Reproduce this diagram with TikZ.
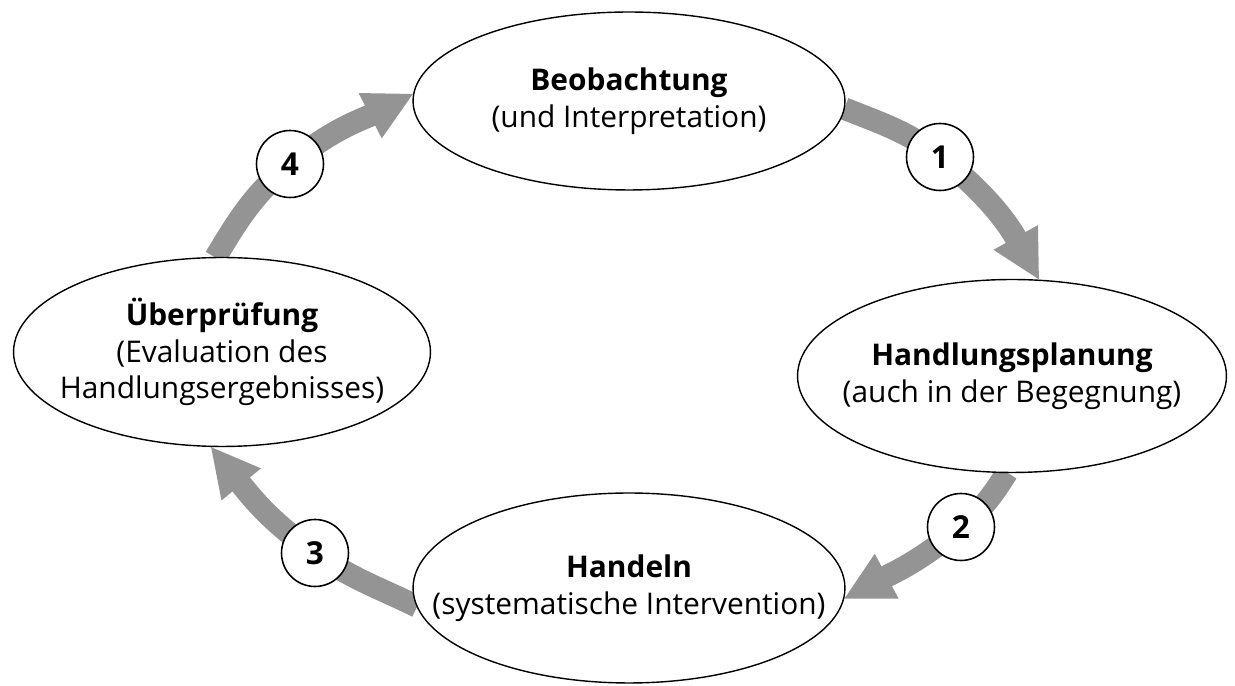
\documentclass[tikz,border=0pt]{standalone}
\usepackage{fontspec}
\setmainfont{Open Sans}
\usetikzlibrary{shapes.geometric,arrows.meta,backgrounds}
\definecolor{flowgray}{RGB}{148,148,148}
\begin{document}
\begin{tikzpicture}
    [
        x=0.02cm, y=0.02cm,
        stage/.style = {draw, shape=ellipse, fill=white, line width=0.8pt, inner sep=0pt, outer sep=0pt},
        stagetext/.style = {align=center, font=\fontsize{17}{21}\selectfont},
        flow/.style = {draw=flowgray, line width=0.45cm, -{Triangle[length=0.98cm, width=0.94cm]}},
        numcircle/.style = {draw=black, shape=circle, fill=white, line width=0.9pt, minimum size=1.34cm, inner sep=0pt, font=\fontsize{18}{21}\selectfont\bfseries},
    ]

    \useasboundingbox (0,0) rectangle (1235,686);

    \node[stage, minimum width=8.64cm, minimum height=3.56cm] (beob) at (629,585) {};
    \node[stage, minimum width=8.58cm, minimum height=3.86cm] (plan) at (1012,310) {};
    \node[stage, minimum width=8.64cm, minimum height=3.8cm] (handeln) at (629,98) {};
    \node[stage, minimum width=8.34cm, minimum height=3.78cm] (ueber) at (222,334) {};

    \node[stagetext] (beobtext) at (beob) {\textbf{Beobachtung}\\(und Interpretation)};
    \node[stagetext] (plantext) at (plan) {\textbf{Handlungsplanung}\\(auch in der Begegnung)};
    \node[stagetext] (handelntext) at (handeln) {\textbf{Handeln}\\(systematische Intervention)};
    \node[stagetext] (uebertext) at (ueber) {\textbf{Überprüfung}\\(Evaluation des\\Handlungsergebnisses)};

    \coordinate (p1) at (940,529);
    \coordinate (p2) at (961,159);
    \coordinate (p3) at (315,133);
    \coordinate (p4) at (290,522);

    \begin{scope}[on background layer]
        \draw [flow] (beob.-2) to[out=-22, in=142] (p1) to[out=-38, in=119] (plan.74);
        \draw [flow] (plan.267) to[out=-122, in=40] (p2) to[out=-140, in=28] (handeln.-3);
        \draw [flow] (handeln.185) to[out=154, in=-35] (p3) to[out=145, in=-51] (ueber.263);
        \draw [flow] (ueber.94) to[out=59, in=220] (p4) to[out=40, in=207] (beob.178);
    \end{scope}

    \node[numcircle] (n1) at (p1) {1};
    \node[numcircle] (n2) at (p2) {2};
    \node[numcircle] (n3) at (p3) {3};
    \node[numcircle] (n4) at (p4) {4};
\end{tikzpicture}
\end{document}
